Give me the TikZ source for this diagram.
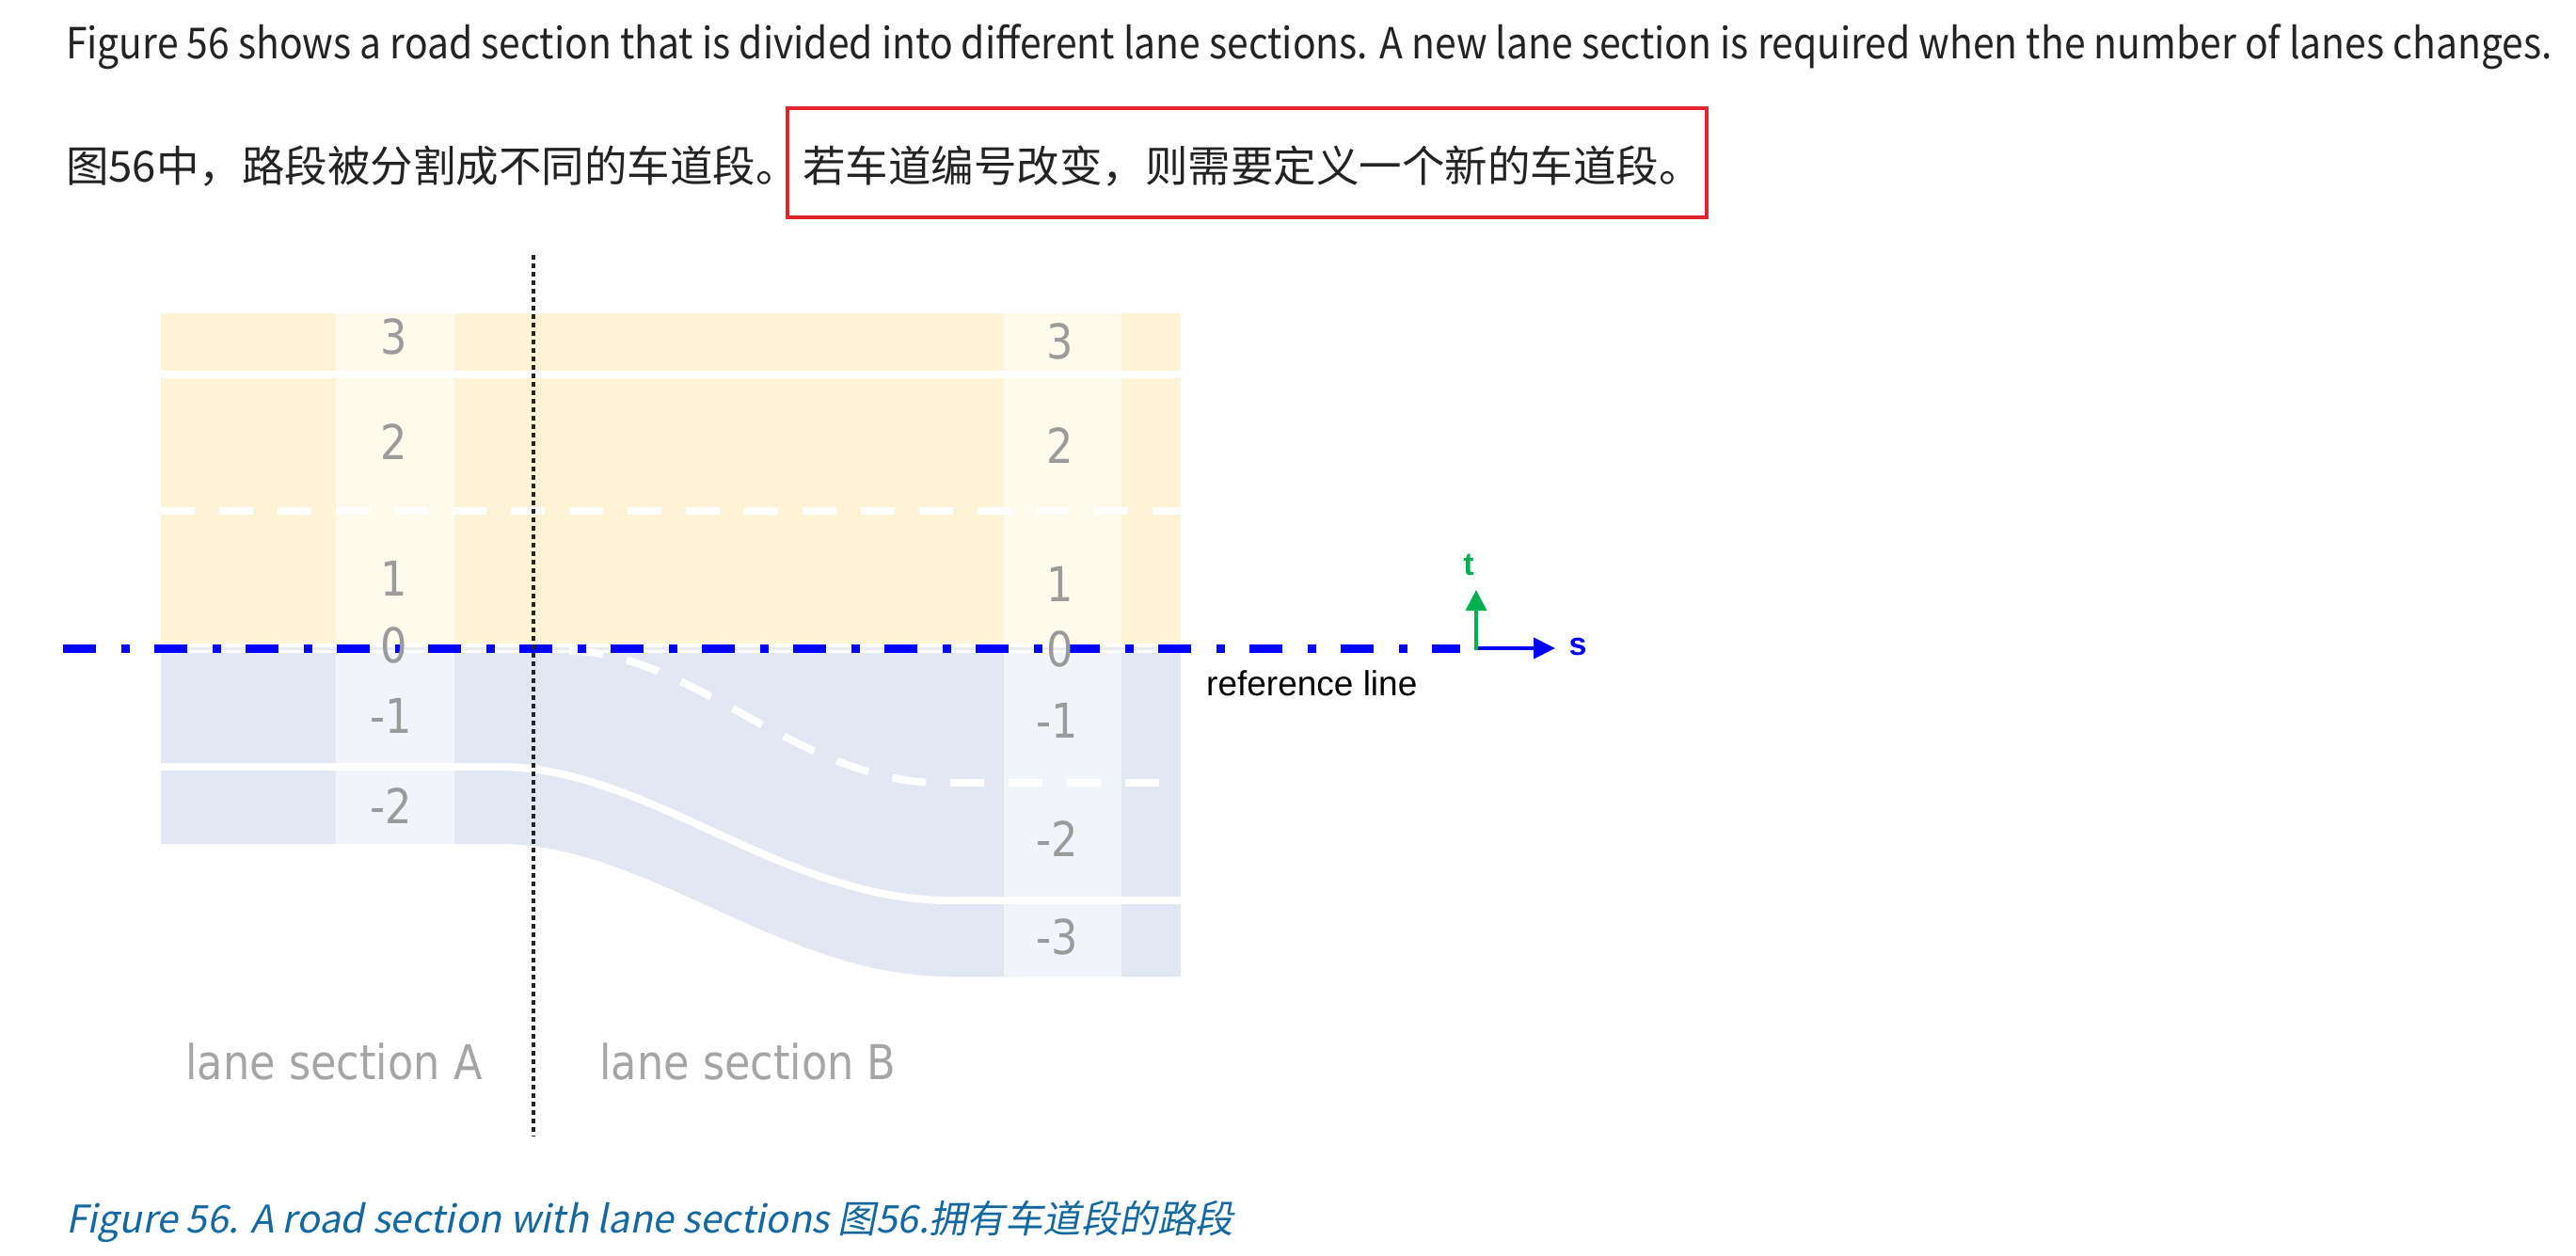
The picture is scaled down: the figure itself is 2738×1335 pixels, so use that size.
\documentclass[tikz,border=0pt]{standalone}
\usepackage{fontspec}
\usetikzlibrary{arrows.meta}
\newfontfamily\cjkf{Noto Sans CJK SC}
\newfontfamily\latf[FakeStretch=0.897]{Noto Sans CJK SC}
\newfontfamily\cjkit[FakeSlant=0.2]{Noto Sans CJK SC}
\newfontfamily\lanef[FakeStretch=0.875]{DejaVu Sans}
\newfontfamily\arialf{Liberation Sans}
\definecolor{roadyel}{RGB}{255,243,214}
\definecolor{colyel}{RGB}{254,250,236}
\definecolor{roadblue}{RGB}{225,232,244}
\definecolor{colblue}{RGB}{241,245,251}
\definecolor{sepgray}{RGB}{232,236,241}
\definecolor{refblue}{RGB}{0,0,255}
\definecolor{tgreen}{RGB}{0,176,80}
\definecolor{labgray}{RGB}{155,155,155}
\definecolor{bodytext}{RGB}{35,35,35}
\definecolor{capblue}{RGB}{20,104,160}
\definecolor{boxred}{RGB}{227,36,43}
\begin{document}
\begin{tikzpicture}[x=1pt,y=-1pt,
  txt/.style={inner sep=0pt, anchor=base west},
  bodyfont/.style={font=\cjkf\fontsize{45.5}{50}\selectfont, text=bodytext},
  latfont/.style={font=\latf\fontsize{45.5}{50}\selectfont, text=bodytext},
  lanenum/.style={inner sep=0pt, font=\lanef\fontsize{51}{51}\selectfont, text=labgray},
  seclabel/.style={inner sep=0pt, anchor=base, font=\lanef\fontsize{51}{51}\selectfont, text=labgray!90},
  whiteline/.style={draw=white, line width=8pt},
  whitedash/.style={draw=white, line width=8pt, dash pattern=on 36pt off 26pt},
  refline/.style={draw=refblue, line width=9pt, dash pattern=on 35pt off 27pt on 9pt off 26pt},
  secline/.style={draw=black!85, line width=4pt, dash pattern=on 4.5pt off 4.5pt}
]
\useasboundingbox (0,0) rectangle (2738,1335);

% text above
\node[txt, latfont] (line1) at (70,63) {Figure 56 shows a road section that is divided into different lane sections. A new lane section is required when the number of lanes changes.};
\node[txt, bodyfont] (line2a) at (70,193) {图56中，路段被分割成不同的车道段。};
\node[txt, bodyfont] (line2b) at (853,193) {若车道编号改变，则需要定义一个新的车道段。};
\draw[boxred, line width=3.5pt] (837,115) rectangle (1814,231);

% road surface
\fill[roadyel] (171,333) rectangle (1255,684);
\fill[roadblue] (171,694) -- (1255,694) -- (1255,1038) -- (1010,1038)
  .. controls (830,1038) and (690,897) .. (530,897) -- (171,897) -- cycle;
\fill[colyel] (357,333) rectangle (483,684);
\fill[colyel] (1067,333) rectangle (1192,684);
\fill[colblue] (357,694) rectangle (483,897);
\fill[colblue] (1067,694) rectangle (1192,1038);
\fill[white] (171,684) rectangle (1255,694);
\draw[sepgray, line width=3pt] (171,689) -- (1255,689);

% lane markings
\draw[whiteline] (171,398) -- (1255,398);
\draw[whitedash] (171,543) -- (1255,543);
\draw[whiteline] (171,815) -- (530,815) .. controls (690,815) and (830,957) .. (1010,957) -- (1255,957);
\draw[whitedash] (605,692) .. controls (735,692) and (850,832) .. (1000,832) -- (1255,832);

% reference line
\coordinate (refStart) at (67,689);
\coordinate (refEnd) at (1552,689);
\draw[refline] (refStart) -- (refEnd);

% lane numbers, section A
\node[lanenum] (a3) at (419,358) {3};
\node[lanenum] (a2) at (419,470) {2};
\node[lanenum] (a1) at (419,615) {1};
\node[lanenum] (a0) at (419,686) {0};
\node[lanenum] (am1) at (416,761) {-1};
\node[lanenum] (am2) at (416,857) {-2};
% lane numbers, section B
\node[lanenum] (b3) at (1127,363) {3};
\node[lanenum] (b2) at (1127,474) {2};
\node[lanenum] (b1) at (1127,621) {1};
\node[lanenum] (b0) at (1127,690) {0};
\node[lanenum] (bm1) at (1124,766) {-1};
\node[lanenum] (bm2) at (1124,892) {-2};
\node[lanenum] (bm3) at (1124,996) {-3};

% coordinate system
\coordinate (O) at (1568,689);
\coordinate (sTip) at (1653,689);
\coordinate (tTip) at (1569,627);
\draw[refblue, line width=4pt, -{Triangle[length=23pt,width=22pt]}] (O) -- (sTip);
\draw[tgreen, line width=4pt, -{Triangle[length=22pt,width=22pt]}] (1569,691) -- (tTip);
\node[inner sep=0pt, font=\arialf\bfseries\fontsize{34}{34}\selectfont, text=refblue] (slab) at (1677,688) {s};
\node[inner sep=0pt, font=\arialf\bfseries\fontsize{34}{34}\selectfont, text=tgreen] (tlab) at (1561,601) {t};
\node[txt, font=\arialf\fontsize{37}{37}\selectfont, text=black] (reflab) at (1282,739) {reference line};

% section boundary
\coordinate (dTop) at (567,271);
\coordinate (dBot) at (567,1208);
\draw[secline] (dTop) -- (dBot);

% section labels
\node[seclabel] (secA) at (355,1147) {lane section A};
\node[seclabel] (secB) at (795,1147) {lane section B};

% caption
\node[txt, font=\cjkit\fontsize{40.5}{44}\selectfont, text=capblue] (cap) at (70,1310) {Figure 56. A road section with lane sections 图56.拥有车道段的路段};
\end{tikzpicture}
\end{document}
